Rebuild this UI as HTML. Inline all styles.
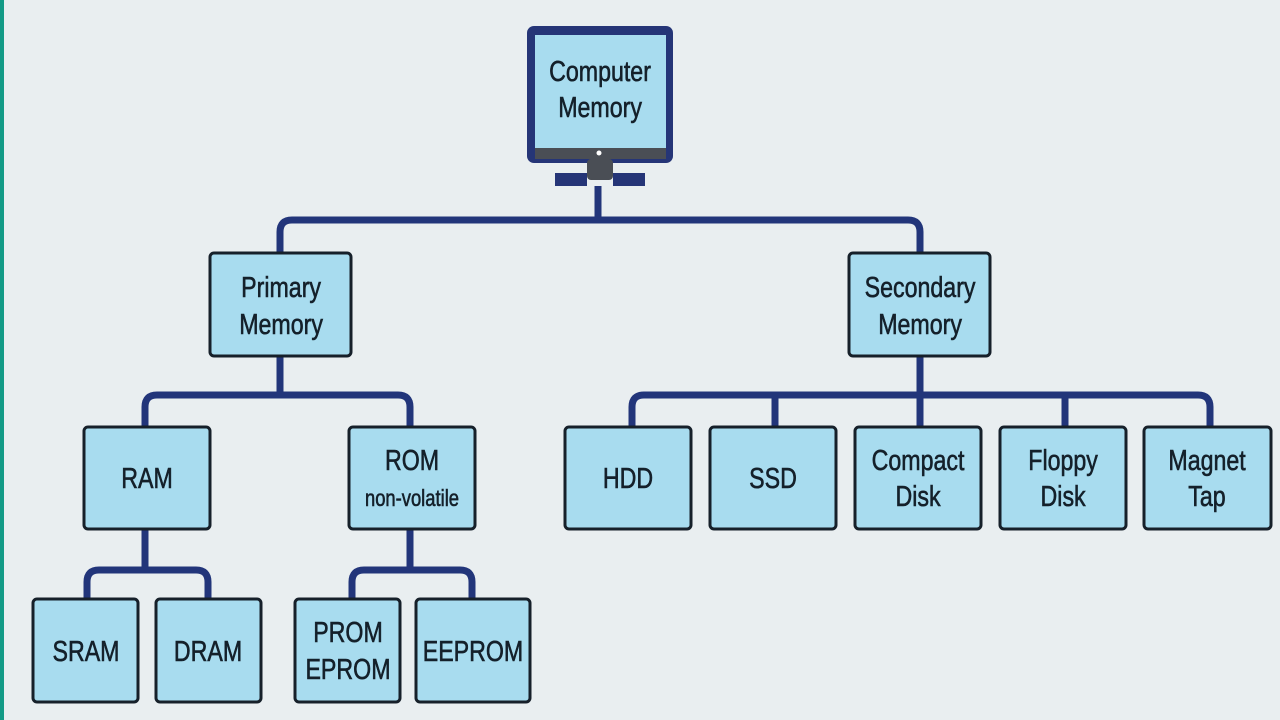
<!DOCTYPE html>
<html><head><meta charset="utf-8"><style>
html,body{margin:0;padding:0;background:#e9eef0;}
svg{display:block}
text{font-family:"Liberation Sans",sans-serif;fill:#14202a;text-anchor:middle;font-size:29px;stroke:#14202a;stroke-width:0.6px;transform-box:fill-box;transform-origin:center;transform:scaleX(0.8)}
</style></head><body>
<svg width="1280" height="720" viewBox="0 0 1280 720">
<rect x="0" y="0" width="1280" height="720" fill="#e9eef0"/>
<rect x="0" y="0" width="4" height="720" fill="#129a86"/>
<g fill="none" stroke="#22357a" stroke-width="7" stroke-linejoin="round">
<path d="M598 186 V220"/>
<path d="M280 252 V232 Q280 220 292 220 H908 Q920 220 920 232 V252"/>
<path d="M280 357 V395"/>
<path d="M145 426 V407 Q145 395 157 395 H398 Q410 395 410 407 V426"/>
<path d="M920 357 V426"/>
<path d="M632 426 V407 Q632 395 644 395 H1198 Q1210 395 1210 407 V426"/>
<path d="M775 395 V426 M1065 395 V426"/>
<path d="M145 530 V570"/>
<path d="M87 598 V582 Q87 570 99 570 H196 Q208 570 208 582 V598"/>
<path d="M410 530 V570"/>
<path d="M352 598 V582 Q352 570 364 570 H460 Q472 570 472 582 V598"/>
</g>
<!-- monitor -->
<rect x="527" y="26" width="146" height="137" rx="7" fill="#253577"/>
<rect x="535" y="35" width="131" height="113" fill="#a8dcef"/>
<rect x="535" y="148" width="131" height="11" fill="#4a4e55"/>
<circle cx="599" cy="153" r="2.5" fill="#fff"/>
<rect x="587" y="159" width="26" height="21" rx="4" fill="#4a4e55"/>
<rect x="555" y="173" width="32" height="13" fill="#253577"/>
<rect x="613" y="173" width="32" height="13" fill="#253577"/>
<text x="600" y="81">Computer</text>
<text x="600" y="117">Memory</text>
<g fill="#a8dcef" stroke="#16202a" stroke-width="3">
<rect x="210" y="253" width="141" height="103" rx="4"/>
<rect x="849" y="253" width="141" height="103" rx="4"/>
<rect x="84" y="427" width="126" height="102" rx="4"/>
<rect x="349" y="427" width="126" height="102" rx="4"/>
<rect x="565" y="427" width="126" height="102" rx="4"/>
<rect x="710" y="427" width="126" height="102" rx="4"/>
<rect x="855" y="427" width="126" height="102" rx="4"/>
<rect x="1000" y="427" width="126" height="102" rx="4"/>
<rect x="1144" y="427" width="127" height="102" rx="4"/>
<rect x="33" y="599" width="105" height="103" rx="4"/>
<rect x="156" y="599" width="105" height="103" rx="4"/>
<rect x="295" y="599" width="105" height="103" rx="4"/>
<rect x="416" y="599" width="114" height="103" rx="4"/>
</g>
<text x="281" y="297">Primary</text>
<text x="281" y="334">Memory</text>
<text x="920" y="297">Secondary</text>
<text x="920" y="334">Memory</text>
<text x="147" y="488">RAM</text>
<text x="412" y="470">ROM</text>
<text x="412" y="506" style="font-size:23px">non-volatile</text>
<text x="628" y="488">HDD</text>
<text x="773" y="488">SSD</text>
<text x="918" y="470">Compact</text>
<text x="918" y="506">Disk</text>
<text x="1063" y="470">Floppy</text>
<text x="1063" y="506">Disk</text>
<text x="1207" y="470">Magnet</text>
<text x="1207" y="506">Tap</text>
<text x="86" y="661">SRAM</text>
<text x="208" y="661">DRAM</text>
<text x="348" y="642">PROM</text>
<text x="348" y="679">EPROM</text>
<text x="473" y="661">EEPROM</text>
</svg>
</body></html>
